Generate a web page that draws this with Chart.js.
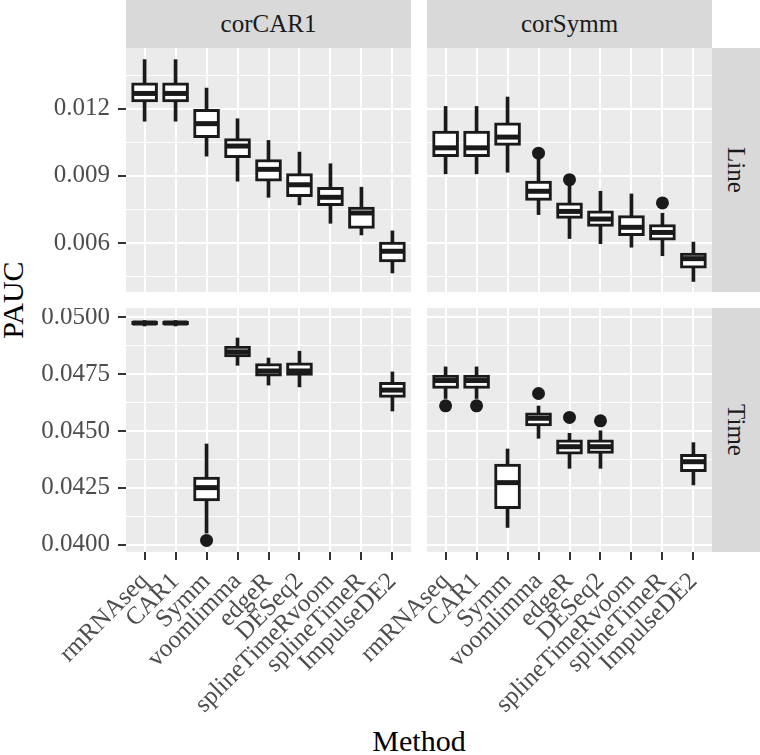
<!DOCTYPE html>
<html><head><meta charset="utf-8">
<script src="https://cdn.jsdelivr.net/npm/chart.js@4.4.1/dist/chart.umd.min.js"></script>
<style>
body{margin:0;width:760px;height:755px;position:relative;background:#fff;overflow:hidden;font-family:'Liberation Serif',serif;}
canvas{position:absolute;}
.strip{position:absolute;background:#D9D9D9;color:#1A1A1A;font-size:25px;display:flex;align-items:center;justify-content:center;}
.strip span{display:inline-block;white-space:nowrap;}
.rot span{transform:rotate(90deg);}
.title{position:absolute;color:#000;font-size:30px;white-space:nowrap;}
</style></head>
<body>
<div class="strip" style="left:126px;top:0;width:285px;height:48px;"><span>corCAR1</span></div>
<div class="strip" style="left:427px;top:0;width:285px;height:48px;"><span>corSymm</span></div>
<div class="strip rot" style="left:712px;top:48px;width:48px;height:244px;"><span>Line</span></div>
<div class="strip rot" style="left:712px;top:308px;width:48px;height:244px;"><span>Time</span></div>
<div class="title" id="ytitle" style="left:13px;top:300px;transform:translate(-50%,-50%) rotate(-90deg);">PAUC</div>
<div class="title" style="left:419px;top:741px;transform:translate(-50%,-50%);">Method</div>
<canvas id="tl" width="381" height="244" style="left:30px;top:48px;"></canvas>
<canvas id="tr" width="285" height="244" style="left:427px;top:48px;"></canvas>
<canvas id="bl" width="381" height="447" style="left:30px;top:308px;"></canvas>
<canvas id="br" width="372" height="447" style="left:340px;top:308px;"></canvas>
<script>
// ---------- data ----------
const methods = ['rmRNAseq','CAR1','Symm','voomlimma','edgeR','DESeq2','splineTimeRvoom','splineTimeR','ImpulseDE2'];

const lineTickValues = [0.006, 0.009, 0.012];
const lineTickLabels = ['0.006', '0.009', '0.012'];
const lineMinorTicks = [0.0045, 0.0075, 0.0105, 0.0135];
const lineRange = [0.00381, 0.01471];

const timeTickValues = [0.0400, 0.0425, 0.0450, 0.0475, 0.0500];
const timeTickLabels = ['0.0400', '0.0425', '0.0450', '0.0475', '0.0500'];
const timeMinorTicks = [0.04125, 0.04375, 0.04625, 0.04875];
const timeRange = [0.03968, 0.05041];

// corCAR1 / Line
const car1LineMin = [0.01144, 0.01144, 0.00988, 0.00876, 0.00804, 0.00770, 0.00688, 0.00636, 0.00466];
const car1LineQ1  = [0.01230, 0.01230, 0.01070, 0.00981, 0.00876, 0.00807, 0.00767, 0.00665, 0.00515];
const car1LineMed = [0.01268, 0.01268, 0.01133, 0.01033, 0.00929, 0.00860, 0.00804, 0.00734, 0.00563];
const car1LineQ3  = [0.01315, 0.01315, 0.01197, 0.01066, 0.00973, 0.00910, 0.00849, 0.00760, 0.00604];
const car1LineMax = [0.01419, 0.01419, 0.01292, 0.01155, 0.01058, 0.01006, 0.00954, 0.00849, 0.00654];
const car1LineOutliers = [];

// corSymm / Line
const symmLineMin = [0.00909, 0.00909, 0.00916, 0.00727, 0.00620, 0.00597, 0.00581, 0.00543, 0.00428];
const symmLineQ1  = [0.00986, 0.00986, 0.01036, 0.00790, 0.00710, 0.00674, 0.00633, 0.00612, 0.00488];
const symmLineMed = [0.01025, 0.01025, 0.01073, 0.00831, 0.00741, 0.00707, 0.00670, 0.00647, 0.00530];
const symmLineQ3  = [0.01100, 0.01100, 0.01137, 0.00876, 0.00779, 0.00744, 0.00722, 0.00682, 0.00555];
const symmLineMax = [0.01210, 0.01210, 0.01252, 0.00976, 0.00857, 0.00831, 0.00819, 0.00733, 0.00604];
const symmLineOutliers = [['voomlimma', 0.01001], ['edgeR', 0.00883], ['splineTimeR', 0.00779]];

// corCAR1 / Time
const car1TimeMin = [0.04962, 0.04962, 0.04051, 0.04789, 0.04702, 0.04694, null, null, 0.04588];
const car1TimeQ1  = [0.04968, 0.04968, 0.04193, 0.04826, 0.04741, 0.04744, null, null, 0.04648];
const car1TimeMed = [0.04975, 0.04975, 0.04251, 0.04848, 0.04764, 0.04764, null, null, 0.04680];
const car1TimeQ3  = [0.04982, 0.04982, 0.04297, 0.04874, 0.04797, 0.04800, null, null, 0.04714];
const car1TimeMax = [0.04986, 0.04986, 0.04443, 0.04909, 0.04821, 0.04851, null, null, 0.04760];
const car1TimeOutliers = [['Symm', 0.04019]];

// corSymm / Time
const symmTimeMin = [0.04643, 0.04643, 0.04076, 0.04468, 0.04336, 0.04336, null, null, 0.04263];
const symmTimeQ1  = [0.04687, 0.04687, 0.04158, 0.04522, 0.04398, 0.04402, null, null, 0.04321];
const symmTimeMed = [0.04722, 0.04722, 0.04273, 0.04556, 0.04431, 0.04431, null, null, 0.04365];
const symmTimeQ3  = [0.04746, 0.04746, 0.04355, 0.04580, 0.04461, 0.04461, null, null, 0.04398];
const symmTimeMax = [0.04782, 0.04782, 0.04421, 0.04610, 0.04490, 0.04501, null, null, 0.04449];
const symmTimeOutliers = [['rmRNAseq', 0.04611], ['CAR1', 0.04611], ['voomlimma', 0.04665], ['edgeR', 0.04560], ['DESeq2', 0.04545]];

// ---------- rendering ----------
const INK = '#1A1A1A';
const FONT = 'Liberation Serif';

const panelBg = {
  id: 'panelBg',
  beforeDraw(chart) {
    const {ctx, chartArea: a} = chart;
    ctx.save();
    ctx.fillStyle = '#EBEBEB';
    ctx.fillRect(a.left, a.top, a.right - a.left, a.bottom - a.top);
    ctx.restore();
  }
};

function boxDatasets(mins, q1, med, q3, maxs, outs) {
  const idx = methods.map((m, i) => i).filter(i => med[i] !== null);
  return [
    {type: 'bar', data: idx.map(i => ({x: i, y: [mins[i], maxs[i]]})),
     backgroundColor: INK, borderWidth: 0, barThickness: 3, grouped: false, order: 4},
    {type: 'bar', data: idx.map(i => ({x: i, y: [q1[i], q3[i]]})),
     backgroundColor: '#FFFFFF', borderColor: INK, borderWidth: 3, borderSkipped: false,
     barThickness: 26, grouped: false, order: 3},
    {type: 'line', showLine: false, data: idx.map(i => ({x: i, y: med[i]})),
     pointStyle: 'line', pointRadius: 12, pointHoverRadius: 12, pointBorderWidth: 5,
     pointHoverBorderWidth: 5, pointBorderColor: INK, pointBackgroundColor: INK, order: 2},
    {type: 'line', showLine: false, data: outs.map(([m, v]) => ({x: methods.indexOf(m), y: v})),
     pointStyle: 'circle', pointRadius: 6.5, pointHoverRadius: 6.5, pointBorderWidth: 0,
     pointBackgroundColor: INK, order: 1}
  ];
}

function makeScales(cfg) {
  const isMajor = v => cfg.major.some(m => Math.abs(m - v) < 1e-9);
  return {
    x: {
      type: 'linear', min: -0.6, max: methods.length - 1 + 0.6, offset: false,
      afterBuildTicks: s => { s.ticks = methods.map((m, i) => ({value: i})); },
      afterFit: s => { s.height = cfg.xHeight; s.paddingLeft = 0; s.paddingRight = 0; },
      grid: {color: '#FFFFFF', lineWidth: 2, offset: false, drawTicks: cfg.showX,
             tickLength: 8, tickColor: '#333333', tickWidth: 2},
      border: {display: false},
      ticks: {display: cfg.showX, autoSkip: false, maxRotation: 45, minRotation: 45, padding: 7,
              color: '#4D4D4D', font: {family: FONT, size: 25},
              callback: v => methods[v]}
    },
    y: {
      type: 'linear', min: cfg.range[0], max: cfg.range[1], beginAtZero: false,
      afterBuildTicks: s => {
        s.ticks = cfg.major.concat(cfg.minor).sort((a, b) => a - b).map(v => ({value: v}));
      },
      afterFit: s => { s.width = cfg.yWidth; s.paddingTop = 0; s.paddingBottom = 0; },
      grid: {color: '#FFFFFF', lineWidth: c => isMajor(c.tick.value) ? 2 : 1,
             drawTicks: cfg.showY, tickLength: 8,
             tickColor: c => isMajor(c.tick.value) ? '#333333' : 'rgba(0,0,0,0)', tickWidth: 2},
      border: {display: false},
      ticks: {display: cfg.showY, autoSkip: false, padding: 8, color: '#4D4D4D',
              font: {family: FONT, size: 25},
              callback: v => {
                const k = cfg.major.findIndex(m => Math.abs(m - v) < 1e-9);
                return k >= 0 ? cfg.labels[k] : '';
              }}
    }
  };
}

function panel(id, datasets, cfg) {
  new Chart(document.getElementById(id), {
    type: 'bar',
    data: {datasets},
    options: {
      responsive: false, animation: false, events: [],
      layout: {padding: 0, autoPadding: false},
      plugins: {legend: {display: false}, tooltip: {enabled: false}},
      scales: makeScales(cfg)
    },
    plugins: [panelBg]
  });
}

const lineCfg = {range: lineRange, major: lineTickValues, minor: lineMinorTicks, labels: lineTickLabels};
const timeCfg = {range: timeRange, major: timeTickValues, minor: timeMinorTicks, labels: timeTickLabels};

panel('tl', boxDatasets(car1LineMin, car1LineQ1, car1LineMed, car1LineQ3, car1LineMax, car1LineOutliers),
      Object.assign({}, lineCfg, {showX: false, showY: true, xHeight: 0, yWidth: 96}));
panel('tr', boxDatasets(symmLineMin, symmLineQ1, symmLineMed, symmLineQ3, symmLineMax, symmLineOutliers),
      Object.assign({}, lineCfg, {showX: false, showY: false, xHeight: 0, yWidth: 0}));
panel('bl', boxDatasets(car1TimeMin, car1TimeQ1, car1TimeMed, car1TimeQ3, car1TimeMax, car1TimeOutliers),
      Object.assign({}, timeCfg, {showX: true, showY: true, xHeight: 203, yWidth: 96}));
panel('br', boxDatasets(symmTimeMin, symmTimeQ1, symmTimeMed, symmTimeQ3, symmTimeMax, symmTimeOutliers),
      Object.assign({}, timeCfg, {showX: true, showY: false, xHeight: 203, yWidth: 87}));
</script>
</body></html>
